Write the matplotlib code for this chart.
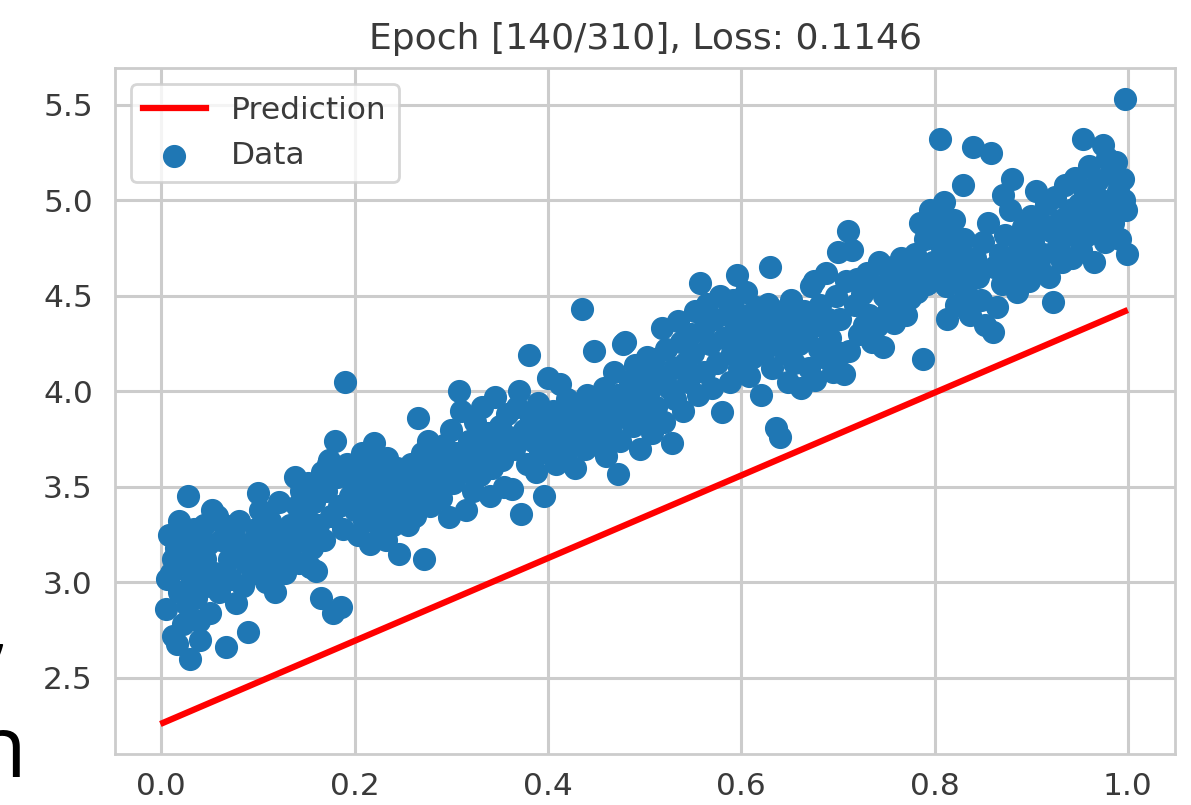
import matplotlib
matplotlib.use("Agg")
import matplotlib.pyplot as plt

# scatter points (x left to right)
data_x = [
    0.005, 0.008, 0.010, 0.012, 0.015, 0.018, 0.020, 0.022, 0.025, 0.027, 0.028, 0.030, 0.032, 0.034, 0.036,
    0.038, 0.040, 0.042, 0.044, 0.046, 0.048, 0.050, 0.012, 0.018, 0.024, 0.033, 0.039, 0.045, 0.006, 0.016,
    0.052, 0.055, 0.058, 0.060, 0.062, 0.065, 0.067, 0.070, 0.072, 0.075, 0.077, 0.080, 0.082, 0.085, 0.088,
    0.090, 0.092, 0.095, 0.098,
    0.100, 0.102, 0.105, 0.108, 0.110, 0.112, 0.115, 0.118, 0.120, 0.122, 0.125, 0.128, 0.130, 0.133, 0.136,
    0.138, 0.140, 0.142, 0.145, 0.148,
    0.150, 0.152, 0.154, 0.156, 0.158, 0.160, 0.162, 0.165, 0.166, 0.168, 0.170, 0.172, 0.174, 0.176, 0.178,
    0.180, 0.182, 0.184, 0.186, 0.188, 0.190, 0.192, 0.195, 0.198,
    0.200, 0.202, 0.204, 0.206, 0.208, 0.210, 0.212, 0.214, 0.216, 0.218, 0.220, 0.222, 0.224, 0.226, 0.228,
    0.230, 0.232, 0.234, 0.236, 0.238, 0.240, 0.242, 0.244, 0.246, 0.248,
    0.250, 0.252, 0.255, 0.258, 0.260, 0.262, 0.264, 0.266, 0.268, 0.270, 0.272, 0.274, 0.276, 0.278, 0.280,
    0.283, 0.286, 0.289, 0.292, 0.295, 0.298, 0.299,
    0.300, 0.302, 0.305, 0.308, 0.310, 0.312, 0.315, 0.318, 0.320, 0.322, 0.325, 0.328, 0.330, 0.332, 0.335,
    0.338, 0.340, 0.342, 0.345, 0.348,
    0.350, 0.352, 0.355, 0.358, 0.360, 0.363, 0.365, 0.368, 0.370, 0.372, 0.375, 0.378, 0.380, 0.382, 0.385,
    0.388, 0.390, 0.392, 0.395, 0.396, 0.398,
    0.400, 0.402, 0.405, 0.408, 0.410, 0.412, 0.415, 0.418, 0.420, 0.422, 0.425, 0.428, 0.430, 0.432, 0.435,
    0.438, 0.440, 0.442, 0.445, 0.448,
    0.450, 0.452, 0.455, 0.458, 0.460, 0.462, 0.465, 0.468, 0.470, 0.472, 0.473, 0.475, 0.478, 0.480, 0.482,
    0.485, 0.488, 0.490, 0.492, 0.495, 0.498,
    0.500, 0.503, 0.505, 0.508, 0.510, 0.512, 0.515, 0.518, 0.520, 0.522, 0.525, 0.528, 0.530, 0.532, 0.535,
    0.538, 0.540, 0.542, 0.545, 0.548,
    0.550, 0.552, 0.555, 0.557, 0.560, 0.562, 0.565, 0.568, 0.570, 0.572, 0.575, 0.578, 0.580, 0.582, 0.585,
    0.588, 0.590, 0.592, 0.595, 0.596, 0.598,
    0.600, 0.602, 0.605, 0.608, 0.610, 0.612, 0.615, 0.618, 0.620, 0.622, 0.625, 0.628, 0.630, 0.632, 0.634,
    0.636, 0.638, 0.640, 0.642, 0.645, 0.648,
    0.650, 0.652, 0.655, 0.658, 0.660, 0.662, 0.665, 0.668, 0.670, 0.672, 0.675, 0.676, 0.678, 0.680, 0.682,
    0.685, 0.688, 0.690, 0.692, 0.695, 0.698,
    0.700, 0.702, 0.704, 0.706, 0.708, 0.710, 0.712, 0.715, 0.718, 0.720, 0.722, 0.725, 0.727, 0.730, 0.732,
    0.735, 0.738, 0.740, 0.743, 0.747, 0.748,
    0.750, 0.752, 0.755, 0.758, 0.760, 0.762, 0.765, 0.768, 0.770, 0.772, 0.775, 0.778, 0.780, 0.782, 0.785,
    0.786, 0.788, 0.790, 0.792, 0.795, 0.798,
    0.800, 0.803, 0.806, 0.806, 0.808, 0.810, 0.812, 0.813, 0.815, 0.816, 0.818, 0.820, 0.822, 0.825, 0.828,
    0.829, 0.830, 0.833, 0.835, 0.837, 0.840, 0.842, 0.845, 0.848,
    0.850, 0.852, 0.855, 0.858, 0.860, 0.862, 0.865, 0.868, 0.870, 0.871, 0.873, 0.875, 0.878, 0.880, 0.882,
    0.885, 0.888, 0.890, 0.892, 0.895, 0.898,
    0.900, 0.902, 0.905, 0.908, 0.910, 0.912, 0.915, 0.918, 0.920, 0.923, 0.925, 0.928, 0.930, 0.932, 0.935,
    0.938, 0.940, 0.942, 0.945, 0.948,
    0.950, 0.952, 0.954, 0.956, 0.958, 0.960, 0.962, 0.965, 0.968, 0.970, 0.972, 0.974, 0.976, 0.978, 0.980,
    0.982, 0.985, 0.988, 0.990, 0.992, 0.995, 0.997, 0.998, 0.999, 0.996,
]
data_y = [
    2.86, 3.25, 3.05, 2.72, 3.18, 2.95, 3.22, 2.78, 3.10, 2.88, 3.45, 2.60, 3.02, 3.28, 2.92,
    3.15, 2.70, 3.08, 3.30, 2.98, 3.20, 2.84, 3.12, 3.32, 2.95, 3.18, 2.80, 3.12, 3.02, 2.68,
    3.38, 3.05, 3.35, 2.95, 3.22, 3.30, 2.66, 3.12, 3.02, 3.25, 2.89, 3.32, 3.18, 2.98, 3.10,
    2.74, 3.20, 3.05, 3.28,
    3.47, 3.38, 3.15, 3.00, 3.22, 3.32, 3.08, 2.95, 3.18, 3.42, 3.26, 3.05, 3.12, 3.30, 3.20,
    3.55, 3.40, 3.10, 3.48, 3.25,
    3.35, 3.52, 3.08, 3.18, 3.42, 3.06, 3.30, 2.92, 3.58, 3.22, 3.48, 3.62, 3.64, 3.35, 2.84,
    3.74, 3.55, 3.40, 2.87, 3.28, 4.05, 3.62, 3.45, 3.52,
    3.38, 3.58, 3.25, 3.48, 3.68, 3.32, 3.55, 3.42, 3.20, 3.62, 3.73, 3.36, 3.50, 3.28, 3.44,
    3.58, 3.22, 3.65, 3.40, 3.52, 3.30, 3.46, 3.60, 3.15, 3.38,
    3.55, 3.42, 3.30, 3.62, 3.48, 3.35, 3.58, 3.86, 3.45, 3.68, 3.12, 3.52, 3.74, 3.40, 3.60,
    3.50, 3.66, 3.44, 3.72, 3.58, 3.34, 3.62,
    3.80, 3.52, 3.68, 4.00, 3.90, 3.58, 3.38, 3.74, 3.62, 3.48, 3.84, 3.70, 3.56, 3.92, 3.66,
    3.78, 3.45, 3.60, 3.97, 3.72,
    3.82, 3.64, 3.50, 3.88, 3.76, 3.49, 3.70, 3.92, 4.00, 3.36, 3.80, 3.62, 4.19, 3.86, 3.74,
    3.58, 3.94, 3.68, 3.82, 3.45, 3.88,
    4.07, 3.72, 3.90, 3.62, 3.84, 4.04, 3.78, 3.66, 3.96, 3.88, 3.74, 3.60, 3.92, 3.82, 4.43,
    3.70, 3.98, 3.86, 3.76, 4.21,
    3.94, 3.72, 3.84, 4.02, 3.66, 3.90, 3.78, 4.10, 3.86, 3.98, 3.57, 3.74, 4.25, 4.26, 3.92,
    4.05, 3.82, 4.14, 3.96, 3.70, 4.08,
    3.88, 4.18, 4.00, 3.78, 4.17, 3.92, 4.08, 4.33, 3.84, 4.22, 4.02, 3.73, 4.12, 3.96, 4.37,
    4.26, 3.90, 4.15, 4.05, 4.30,
    4.20, 4.42, 3.98, 4.57, 4.32, 4.10, 4.46, 4.25, 4.02, 4.38, 4.15, 4.50, 3.89, 4.28, 4.40,
    4.05, 4.20, 4.48, 4.34, 4.61, 4.12,
    4.40, 4.25, 4.52, 4.08, 4.34, 4.18, 4.44, 4.30, 3.98, 4.38, 4.22, 4.46, 4.65, 4.12, 4.36,
    3.81, 4.28, 3.76, 4.42, 4.20, 4.05,
    4.32, 4.48, 4.15, 4.38, 4.25, 4.02, 4.42, 4.30, 4.12, 4.55, 4.58, 4.06, 4.35, 4.22, 4.45,
    4.18, 4.62, 4.38, 4.28, 4.10, 4.50,
    4.73, 4.38, 4.20, 4.09, 4.58, 4.84, 4.21, 4.74, 4.45, 4.59, 4.30, 4.51, 4.35, 4.62, 4.40,
    4.26, 4.55, 4.34, 4.68, 4.23, 4.50,
    4.65, 4.42, 4.58, 4.36, 4.62, 4.48, 4.70, 4.55, 4.40, 4.66, 4.49, 4.60, 4.72, 4.52, 4.88,
    4.62, 4.17, 4.80, 4.56, 4.95, 4.68,
    4.85, 4.64, 5.32, 4.93, 4.75, 4.99, 4.55, 4.38, 4.82, 4.58, 4.68, 4.90, 4.45, 4.72, 4.62,
    5.08, 4.80, 4.52, 4.42, 4.40, 5.28, 4.70, 4.60, 4.48,
    4.78, 4.35, 4.88, 5.25, 4.31, 4.65, 4.44, 4.72, 4.56, 5.03, 4.82, 4.62, 4.95, 5.11, 4.68,
    4.52, 4.76, 4.60, 4.86, 4.70, 4.58,
    4.92, 4.78, 5.05, 4.65, 4.88, 4.72, 4.98, 4.60, 4.84, 4.47, 5.02, 4.76, 4.90, 4.68, 5.08,
    4.82, 4.95, 4.70, 5.12, 4.86,
    4.98, 4.74, 5.32, 5.04, 4.82, 5.18, 4.92, 4.68, 5.10, 4.86, 5.00, 5.29, 4.78, 5.22, 4.95,
    5.14, 4.88, 5.20, 5.05, 4.80, 5.11, 5.53, 4.95, 4.72, 5.00,
]

# fitted line end points
pred_x = [0.002, 0.997]
pred_y = [2.265, 4.42]

title = "Epoch [140/310], Loss: 0.1146"

grid_c = "#cccccc"
text_c = "#3a3a3a"

plt.rcParams.update({
    "font.family": "DejaVu Sans",
    "axes.edgecolor": grid_c,
    "axes.linewidth": 2.0,
    "grid.color": grid_c,
    "grid.linewidth": 2.2,
    "xtick.color": text_c,
    "ytick.color": text_c,
    "text.color": text_c,
})

fig = plt.figure(figsize=(11.91, 8.05), dpi=100)
ax = fig.add_axes([0.0966, 0.0634, 0.89, 0.8521])

ax.plot(pred_x, pred_y, color="red", linewidth=4.5, label="Prediction")
ax.scatter(data_x, data_y, s=245, color="#1f77b4", label="Data", zorder=2)

ax.grid(True)
ax.set_axisbelow(True)
ax.tick_params(axis="both", length=0, labelsize=22.5)
ax.tick_params(axis="x", pad=13)
ax.tick_params(axis="y", pad=16)
ax.set_xticks([0.0, 0.2, 0.4, 0.6, 0.8, 1.0])
ax.set_yticks([2.5, 3.0, 3.5, 4.0, 4.5, 5.0, 5.5])
ax.set_title(title, fontsize=26, color=text_c, pad=14)

leg = ax.legend(loc="upper left", fontsize=22.5, frameon=True, fancybox=True,
                edgecolor=grid_c, borderpad=0.4, handletextpad=0.8)
leg.get_frame().set_linewidth(2.0)

# bits of surrounding page text cut off at the left edge
fig.text(-0.008, 0.13, "\u2019", fontsize=56, color="black", family="Open Sans")
fig.text(-0.022, 0.035, "n", fontsize=62, color="black", family="Open Sans")

fig.savefig("out.png", dpi=100)
